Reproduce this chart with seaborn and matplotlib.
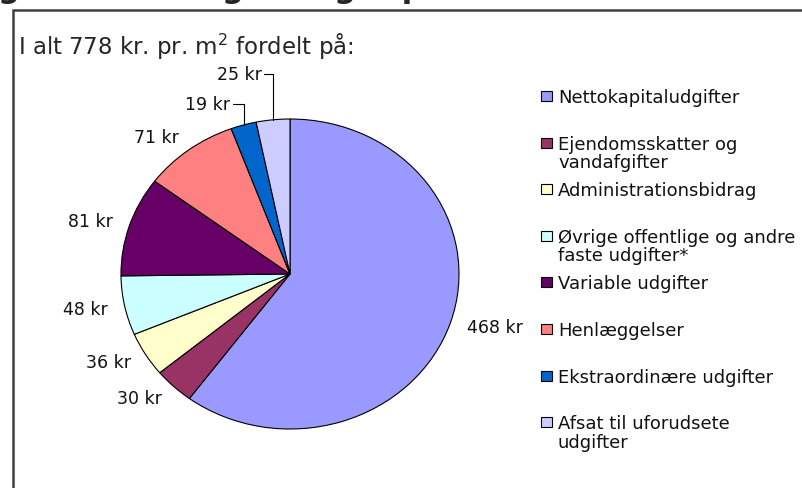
import numpy as np
import matplotlib.pyplot as plt
import seaborn as sns
from matplotlib.patches import Rectangle

# Budget fordeling pr. m2 (kr)
categories = ["Nettokapitaludgifter", "Ejendomsskatter og\nvandafgifter",
              "Administrationsbidrag", "Øvrige offentlige og andre\nfaste udgifter*",
              "Variable udgifter", "Henlæggelser", "Ekstraordinære udgifter",
              "Afsat til uforudsete\nudgifter"]
values = [468, 30, 36, 48, 81, 71, 19, 25]
colors = ["#9999FF", "#993366", "#FFFFCC", "#CCFFFF",
          "#660066", "#FF8080", "#0066CC", "#CCCCFF"]
value_labels = [f"{v} kr" for v in values]
total = sum(values)

header = f"I alt {total} kr. pr. m$^2$ fordelt på:"
top_title = "gennemsnitligt budget pr. m²"

sns.set_style("white")
plt.rcParams["font.family"] = ["DejaVu Sans"]

W, H = 803, 489
fig = plt.figure(figsize=(W / 100, H / 100), dpi=100)
ax = fig.add_axes([0, 0, 1, 1])

# pie centre and (slightly elliptical) radii in pixels
cx, cy = 290, H - 275
rx, ry = 169, 155

wedges, texts = ax.pie(values, colors=sns.color_palette(colors), startangle=90,
                       counterclock=False, labels=value_labels, labeldistance=1.1,
                       wedgeprops=dict(edgecolor="black", linewidth=0.8),
                       textprops=dict(fontsize=12.5, color="#111111"))
ax.set_aspect("auto")
ax.set_xlim(-cx / rx, (W - cx) / rx)
ax.set_ylim(-cy / ry, (H - cy) / ry)
ax.axis("off")

# small slices get labels lifted above with leader lines
leader_pos = {6: (-0.355, 1.10), 7: (-0.166, 1.29)}
for i, (tx, ty) in leader_pos.items():
    w = wedges[i]
    mid = np.deg2rad((w.theta1 + w.theta2) / 2)
    ex, ey = np.cos(mid), np.sin(mid)
    texts[i].set_position((tx, ty))
    texts[i].set_ha("right")
    texts[i].set_va("center")
    ax.plot([tx + 0.015, ex, ex], [ty, ty, ey], color="black", lw=0.8)

# frame around chart area
fig.add_artist(Rectangle((13 / W, -0.1), 1.2, 1 - 11 / H + 0.1,
                         transform=fig.transFigure, fill=False,
                         edgecolor="#404040", lw=1.8))

fig.text(18 / W, 1 - 55 / H, header, fontsize=16.5, va="baseline")
# heading above the frame, mostly cut off by the picture's top edge
fig.text(-2 / W, 1 + 2 / H, top_title, fontsize=22, fontweight="bold", va="baseline")

# legend, drawn by hand so markers line up with the first text line
for i, (name, col) in enumerate(zip(categories, colors)):
    yc = 97 + i * 46.6
    fig.add_artist(Rectangle((541 / W, 1 - (yc + 5) / H), 11 / W, 10 / H,
                             transform=fig.transFigure, facecolor=col,
                             edgecolor="black", lw=0.8))
    fig.text(558 / W, 1 - (yc - 8) / H, name, fontsize=13, va="top",
             linespacing=1.05, color="#111111")

fig.savefig("out.png", dpi=100)
